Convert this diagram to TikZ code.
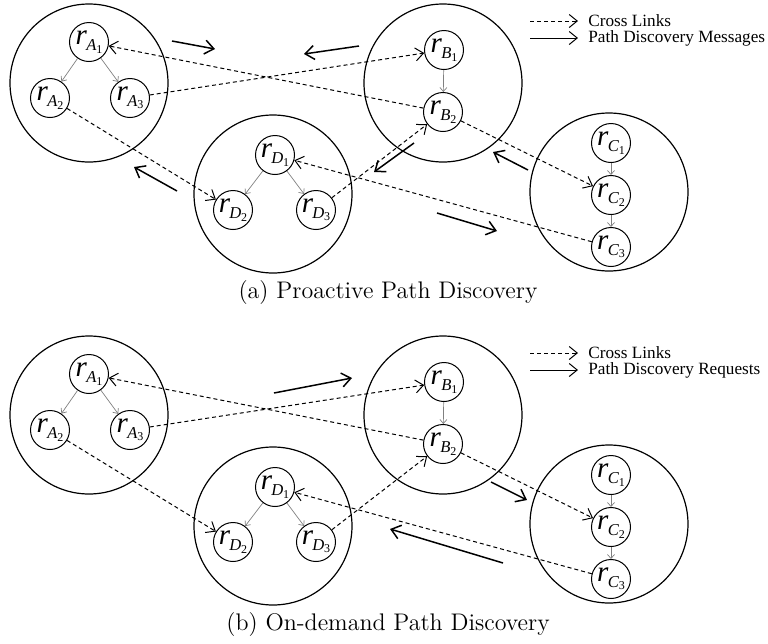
\documentclass[tikz,border=0pt]{standalone}
\usepackage{fontspec}
\newfontfamily\tms{Liberation Serif}
\usetikzlibrary{arrows.meta}
\newcommand\rl[2]{{\tms\itshape\fontsize{14.5}{14.5}\selectfont r\kern-0.3pt\raisebox{-2.8pt}{\fontsize{8.3}{8.3}\selectfont #1\kern-0.1pt\raisebox{-1.4pt}{\upshape\fontsize{6}{6}\selectfont #2}}}}
\newcommand\drawpanel[3]{%
  \node[grp] (#1A) at (89,83) {};
  \node[grp] (#1B) at (443,83) {};
  \node[grp] (#1D) at (273,194) {};
  \node[grp] (#1C) at (609,192) {};
  \node[rn] (#1A1) at (89,42) {\rl{A}{1}};
  \node[rn] (#1A2) at (50,98) {\rl{A}{2}};
  \node[rn] (#1A3) at (130,98) {\rl{A}{3}};
  \node[rn] (#1B1) at (444,50) {\rl{B}{1}};
  \node[rn] (#1B2) at (443,112) {\rl{B}{2}};
  \node[rn] (#1D1) at (275,155) {\rl{D}{1}};
  \node[rn] (#1D2) at (233,210) {\rl{D}{2}};
  \node[rn] (#1D3) at (316,210) {\rl{D}{3}};
  \node[rn] (#1C1) at (611,143) {\rl{C}{1}};
  \node[rn] (#1C2) at (611,195) {\rl{C}{2}};
  \node[rn] (#1C3) at (611,247) {\rl{C}{3}};
  \draw[tree] (#1A1) -- (#1A2);
  \draw[tree] (#1A1) -- (#1A3);
  \draw[tree] (#1B1) -- (#1B2);
  \draw[tree] (#1D1) -- (#1D2);
  \draw[tree] (#1D1) -- (#1D3);
  \draw[tree] (#1C1) -- (#1C2);
  \draw[tree] (#1C2) -- (#1C3);
  \draw[cross] (#1B2) -- (#1A1);
  \draw[cross] (#1A3) -- (#1B1);
  \draw[cross] (#1A2) -- (#1D2);
  \draw[cross] (#1D3) -- (#1B2);
  \draw[cross] (#1C3) -- (#1D1);
  \draw[cross] (#1B2) -- (#1C2);
  \coordinate (#1l1s) at (530,21);
  \coordinate (#1l1e) at (578,21);
  \coordinate (#1l2s) at (530,38);
  \coordinate (#1l2e) at (578,38);
  \draw[cross] (#1l1s) -- (#1l1e);
  \draw[legsolid] (#1l2s) -- (#1l2e);
  \node[legtext] (#1l1t) at (588,21) {Cross Links};
  \node[legtext] (#1l2t) at (588,38) {#2};
  \node[caption] (#1cap) at (388,293) {#3};
}
\begin{document}
\begin{tikzpicture}[x=0.5pt,y=-0.5pt,
  grp/.style={circle, draw, line width=0.6pt, minimum size=79pt, inner sep=0pt},
  rn/.style={circle, draw, line width=0.5pt, minimum size=19.5pt, inner sep=0pt},
  tree/.style={draw=gray, line width=0.35pt, -{Straight Barb[length=2pt,width=3.5pt]}},
  cross/.style={dash pattern=on 2pt off 1.5pt, line width=0.5pt, -{Straight Barb[length=4pt,width=6.5pt]}},
  msg/.style={line width=0.75pt, -{Straight Barb[length=4.5pt,width=7pt]}},
  legsolid/.style={line width=0.5pt, -{Straight Barb[length=4pt,width=6.5pt]}},
  legtext/.style={anchor=west, inner sep=0pt, font=\tms\fontsize{8.6}{10}\selectfont},
  caption/.style={inner sep=0pt, font=\fontsize{12}{14}\selectfont}]
\useasboundingbox (0,0) rectangle (768,644);
\drawpanel{a}{Path Discovery Messages}{(a) Proactive Path Discovery}
\coordinate (am1s) at (172,41); \coordinate (am1e) at (215,49);
\coordinate (am2s) at (359,46); \coordinate (am2e) at (304,54);
\coordinate (am3s) at (177,191); \coordinate (am3e) at (134,167);
\coordinate (am4s) at (414,143); \coordinate (am4e) at (374,172);
\coordinate (am5s) at (528,170); \coordinate (am5e) at (493,152);
\coordinate (am6s) at (437,213); \coordinate (am6e) at (497,231);
\draw[msg] (am1s) -- (am1e);
\draw[msg] (am2s) -- (am2e);
\draw[msg] (am3s) -- (am3e);
\draw[msg] (am4s) -- (am4e);
\draw[msg] (am5s) -- (am5e);
\draw[msg] (am6s) -- (am6e);
\begin{scope}[shift={(0,332)}]
\drawpanel{b}{Path Discovery Requests}{(b) On-demand Path Discovery}
\coordinate (bm1s) at (274,61); \coordinate (bm1e) at (352,46);
\coordinate (bm2s) at (491,150); \coordinate (bm2e) at (527,168);
\coordinate (bm3s) at (503,231); \coordinate (bm3e) at (390,197);
\draw[msg] (bm1s) -- (bm1e);
\draw[msg] (bm2s) -- (bm2e);
\draw[msg] (bm3s) -- (bm3e);
\end{scope}
\end{tikzpicture}
\end{document}
